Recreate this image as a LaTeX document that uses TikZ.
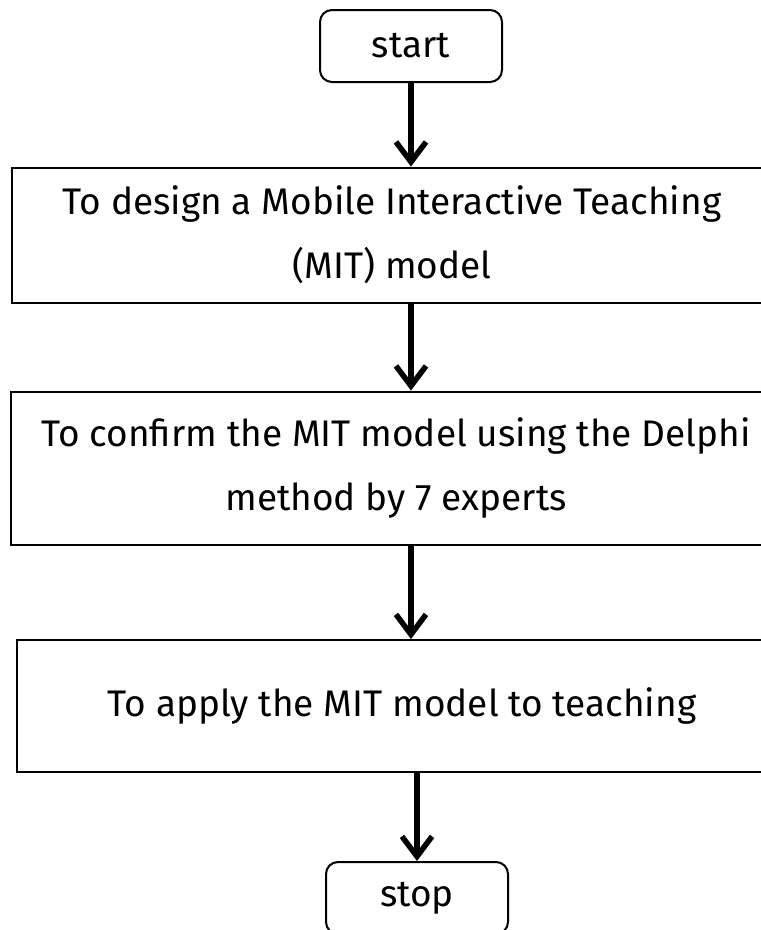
\documentclass[tikz,border=0pt]{standalone}
\usepackage{fontspec}
\setmainfont{Fira Sans}
\usetikzlibrary{positioning,arrows.meta}

\begin{document}
\begin{tikzpicture}[
        x=1pt, y=1pt,
        font=\fontsize{37}{64}\selectfont,
        term/.style={draw, line width=2pt, rounded corners=12pt, minimum width=182pt, minimum height=72pt},
        stepbox/.style={draw, line width=2pt, minimum width=770pt, align=center},
        line/.style={-{Straight Barb[length=20pt,width=30pt]}, line width=5.5pt}
    ]
        \useasboundingbox (0,0) rectangle (761,-930);
        \clip (0,0) rectangle (761,-930);

        \node[term] (start) at (411,-46) {start};
        \node[stepbox, minimum width=760pt, minimum height=135pt] (design) at (392,-235) {To design a Mobile Interactive Teaching\\(MIT) model};
        \node[stepbox, minimum height=153pt] (confirm) at (396,-468) {To confirm the MIT model using the Delphi\\method by 7 experts};
        \node[stepbox, minimum height=132pt] (apply) at (402,-706) {To apply the MIT model to teaching};
        \node[term] (stop) at (417,-898) {stop};

        \draw[line] (start) -- (start |- design.north);
        \draw[line] (design.south -| start) -- (confirm.north -| start);
        \draw[line] (confirm.south -| start) -- (apply.north -| start);
        \draw[line] (apply.south -| stop) -- (stop);
    \end{tikzpicture}
\end{document}
